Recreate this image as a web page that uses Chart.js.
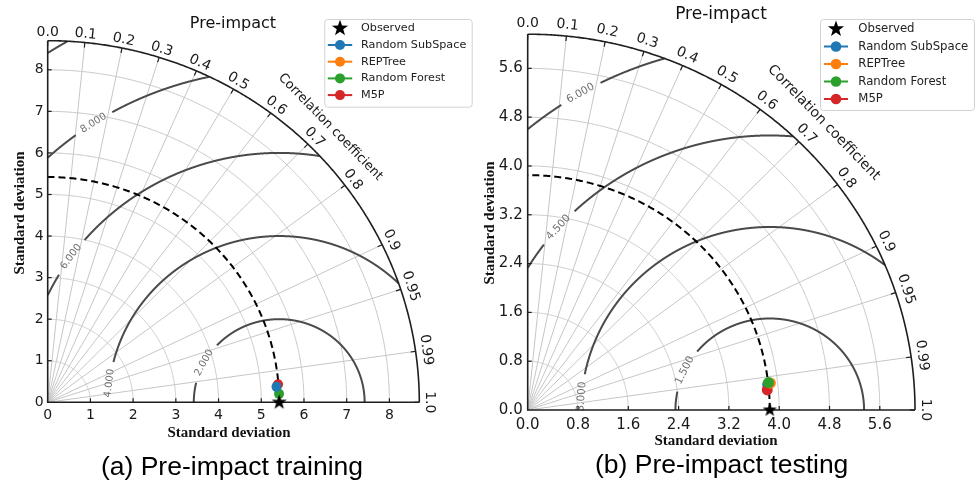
<!DOCTYPE html>
<html>
<head>
<meta charset="utf-8">
<title>Taylor diagrams – Pre-impact</title>
<script src="https://cdn.jsdelivr.net/npm/chart.js@4.4.1/dist/chart.umd.min.js"></script>
<style>
  html, body { margin: 0; padding: 0; background: #ffffff; }
  #wrap { position: relative; width: 977px; height: 486px; overflow: hidden; background: #ffffff; }
  #wrap canvas { position: absolute; left: 0; top: 0; }
</style>
</head>
<body>
<div id="wrap">
  <canvas id="train" width="977" height="486"></canvas>
  <canvas id="test" width="977" height="486"></canvas>
</div>
<script>
// Correlation values marked around the outer arc, and the ones that get a radial grid line
const corrTicks = [0.0, 0.1, 0.2, 0.3, 0.4, 0.5, 0.6, 0.7, 0.8, 0.9, 0.95, 0.99, 1.0];
const corrGrid = [0.1, 0.2, 0.3, 0.4, 0.5, 0.6, 0.7, 0.8, 0.9, 0.95, 0.99];

const modelNames = ['Random SubSpace', 'REPTree', 'Random Forest', 'M5P'];
const modelColors = ['#1f77b4', '#ff7f0e', '#2ca02c', '#d62728'];

// (a) Pre-impact training
const trainRefStd = 5.42;
const trainStd = [5.37, 5.39, 5.42, 5.41];
const trainCorr = [0.9976, 0.9972, 0.9993, 0.9968];
const trainRms = [2, 4, 6, 8, 10];
const trainStdTicks = [0, 1, 2, 3, 4, 5, 6, 7, 8];

// (b) Pre-impact testing
const testRefStd = 3.85;
const testStd = [3.84, 3.885, 3.856, 3.824];
const testCorr = [0.9940, 0.9935, 0.9932, 0.9963];
const testRms = [1.5, 3.0, 4.5, 6.0];
const testStdTicks = [0, 0.8, 1.6, 2.4, 3.2, 4.0, 4.8, 5.6];

// Page layout of each diagram
const trainLayout = {
  area: { left: 47.7, right: 419.3, top: 40.7, bottom: 402.3 },
  rMax: 8.7, decimals: 0, tickFont: 14, yTickPad: 4, xTickPad: 5,
  rmsLabelAt: [151.5, 173.4, 144.3, 122.9, null],   // degrees around the reference point
  labelGap: 21.5, contourFont: 10,
  corrFont: 14, corrOffset: 8.4, corrOffsetExtra: 2.3,
  corrTitleFont: 13, corrTitleOffset: 28,
  title: { x: 233, y: 24, size: 16 },
  xTitle: { x: 229, y: 433 }, yTitle: { x: 20.5, y: 213 }, axisTitleSize: 15,
  caption: { text: '(a) Pre-impact training', x: 232, y: 468, size: 26.5 },
  legend: { left: 324.3, top: 19, right: 471.7, bottom: 106.7, row0: 28.3, rowStep: 16.7,
            markX: 340, lineHalf: 12.2, textX: 361, font: 11.2, markR: 5, starR: 8.5 },
  pointR: 5, starR: 8,
  order: [0, 3, 1, 2]
};
const testLayout = {
  area: { left: 527.7, right: 915, top: 34.2, bottom: 410 },
  rMax: 6.16, decimals: 1, tickFont: 15, yTickPad: 5, xTickPad: 6,
  rmsLabelAt: [154.3, 175.8, 138.3, 120.1],
  labelGap: 22.5, contourFont: 10.5,
  corrFont: 14, corrOffset: 11, corrOffsetExtra: 0,
  corrTitleFont: 14, corrTitleOffset: 31,
  title: { x: 721, y: 14.7, size: 17 },
  xTitle: { x: 716, y: 440.7 }, yTitle: { x: 490, y: 223 }, axisTitleSize: 15,
  caption: { text: '(b) Pre-impact testing', x: 721.7, y: 466, size: 26.5 },
  legend: { left: 820, top: 19, right: 974, bottom: 110, row0: 29, rowStep: 17.5,
            markX: 836, lineHalf: 12, textX: 858.3, font: 11.7, markR: 5.3, starR: 8.5 },
  pointR: 5.5, starR: 7.5,
  order: [3, 1, 0, 2]
};

const W = 977, H = 486;
const Y_AXIS_W = 45, X_AXIS_H = 30;

function starPath(ctx, cx, cy, r) {
  ctx.beginPath();
  for (let k = 0; k < 10; k++) {
    const rr = (k % 2) ? r * 0.4 : r;
    const a = -Math.PI / 2 + k * Math.PI / 5;
    const x = cx + rr * Math.cos(a), y = cy + rr * Math.sin(a);
    if (k === 0) ctx.moveTo(x, y); else ctx.lineTo(x, y);
  }
  ctx.closePath();
}

function starImage(r) {
  const size = Math.ceil(r * 2 + 2);
  const c = document.createElement('canvas');
  c.width = c.height = size;
  const g = c.getContext('2d');
  starPath(g, size / 2, size / 2, r);
  g.fillStyle = '#000000';
  g.fill();
  return c;
}

function corrLabel(c) {
  return (Math.round(c * 100) % 10 === 0) ? c.toFixed(1) : c.toFixed(2);
}

function taylorPlugin(refStd, rms, stdTicks, L) {
  return {
    id: 'taylor',
    beforeDatasetsDraw(chart) {
      const ctx = chart.ctx, xs = chart.scales.x, ys = chart.scales.y;
      const P = (x, y) => [xs.getPixelForValue(x), ys.getPixelForValue(y)];
      const R = L.rMax;
      const sx = xs.getPixelForValue(1) - xs.getPixelForValue(0);
      const sy = ys.getPixelForValue(0) - ys.getPixelForValue(1);

      const arc = (s) => {
        ctx.beginPath();
        for (let k = 0; k <= 360; k++) {
          const t = k * Math.PI / 720;
          const [px, py] = P(s * Math.cos(t), s * Math.sin(t));
          if (k === 0) ctx.moveTo(px, py); else ctx.lineTo(px, py);
        }
        ctx.stroke();
      };

      ctx.save();
      // standard deviation arcs
      ctx.strokeStyle = '#c6c6c6';
      ctx.lineWidth = 1;
      stdTicks.forEach(s => { if (s > 0) arc(s); });
      // correlation rays
      corrGrid.forEach(c => {
        const [x0, y0] = P(0, 0);
        const [x1, y1] = P(R * c, R * Math.sqrt(1 - c * c));
        ctx.beginPath(); ctx.moveTo(x0, y0); ctx.lineTo(x1, y1); ctx.stroke();
      });

      // centred RMS difference contours
      rms.forEach((r, i) => {
        const lab = L.rmsLabelAt[i];
        let lc = null;
        if (lab != null) {
          const a = lab * Math.PI / 180;
          lc = P(refStd + r * Math.cos(a), r * Math.sin(a));
        }
        ctx.strokeStyle = '#4a4a4a';
        ctx.lineWidth = 2;
        ctx.setLineDash([]);
        ctx.beginPath();
        let open = false;
        for (let k = 0; k <= 3600; k++) {
          const a = k * Math.PI / 3600;
          const x = refStd + r * Math.cos(a), y = r * Math.sin(a);
          let ok = x >= 0 && y >= -1e-9 && (x * x + y * y) <= R * R;
          const [px, py] = P(x, y);
          if (ok && lc && Math.hypot(px - lc[0], py - lc[1]) < L.labelGap) ok = false;
          if (ok) {
            if (!open) { ctx.moveTo(px, py); open = true; } else ctx.lineTo(px, py);
          } else open = false;
        }
        ctx.stroke();
        if (lc) {
          const a = lab * Math.PI / 180;
          let ang = Math.atan2(-Math.cos(a) * sy, -Math.sin(a) * sx);
          if (ang > Math.PI / 2) ang -= Math.PI;
          if (ang < -Math.PI / 2) ang += Math.PI;
          ctx.save();
          ctx.translate(lc[0], lc[1]);
          ctx.rotate(ang);
          ctx.fillStyle = '#707070';
          ctx.font = L.contourFont + 'px "DejaVu Sans"';
          ctx.textAlign = 'center';
          ctx.textBaseline = 'middle';
          ctx.fillText(r.toFixed(3), 0, 0);
          ctx.restore();
        }
      });

      // reference standard deviation (dashed arc)
      ctx.strokeStyle = '#000000';
      ctx.lineWidth = 2;
      ctx.setLineDash([7, 4]);
      arc(refStd);
      ctx.setLineDash([]);

      // frame: axes and outer correlation arc
      ctx.strokeStyle = '#1e1e1e';
      ctx.lineWidth = 1.6;
      const [ox, oy] = P(0, 0);
      const [tx, ty] = P(0, R);
      const [rx, ry] = P(R, 0);
      ctx.beginPath(); ctx.moveTo(tx, ty); ctx.lineTo(ox, oy); ctx.lineTo(rx, ry); ctx.stroke();
      arc(R);

      // short inward tick marks
      ctx.lineWidth = 1.2;
      stdTicks.forEach(s => {
        if (s <= 0) return;
        const [px, py] = P(s, 0);
        ctx.beginPath(); ctx.moveTo(px, py); ctx.lineTo(px, py - 4); ctx.stroke();
        const [qx, qy] = P(0, s);
        ctx.beginPath(); ctx.moveTo(qx, qy); ctx.lineTo(qx + 4, qy); ctx.stroke();
      });
      corrTicks.forEach(c => {
        const [px, py] = P(R * c, R * Math.sqrt(Math.max(0, 1 - c * c)));
        const dx = px - ox, dy = py - oy, len = Math.hypot(dx, dy);
        ctx.beginPath(); ctx.moveTo(px, py); ctx.lineTo(px - dx / len * 5, py - dy / len * 5); ctx.stroke();
      });

      // correlation labels around the arc
      ctx.fillStyle = '#1a1a1a';
      ctx.font = L.corrFont + 'px "DejaVu Sans"';
      ctx.textAlign = 'center';
      ctx.textBaseline = 'middle';
      corrTicks.forEach(c => {
        const [px, py] = P(R * c, R * Math.sqrt(Math.max(0, 1 - c * c)));
        const dx = px - ox, dy = py - oy, len = Math.hypot(dx, dy);
        const alpha = Math.atan2(-dy, dx);
        const off = L.corrOffset + L.corrOffsetExtra * Math.cos(alpha) ** 2;
        ctx.save();
        ctx.translate(px + dx / len * off, py + dy / len * off);
        ctx.rotate(Math.PI / 2 - alpha);
        ctx.fillText(corrLabel(c), 0, 0);
        ctx.restore();
      });
      // arc title
      {
        const c = Math.SQRT1_2;
        const [px, py] = P(R * c, R * c);
        const dx = px - ox, dy = py - oy, len = Math.hypot(dx, dy);
        const alpha = Math.atan2(-dy, dx);
        ctx.save();
        ctx.translate(px + dx / len * L.corrTitleOffset, py + dy / len * L.corrTitleOffset);
        ctx.rotate(Math.PI / 2 - alpha);
        ctx.font = L.corrTitleFont + 'px "DejaVu Sans"';
        ctx.fillText('Correlation coefficient', 0, 0);
        ctx.restore();
      }
      ctx.restore();
    },

    afterDatasetsDraw(chart) {
      const ctx = chart.ctx;
      ctx.save();
      ctx.textAlign = 'center';
      ctx.textBaseline = 'middle';
      ctx.fillStyle = '#111111';

      // panel title
      ctx.font = L.title.size + 'px "DejaVu Sans"';
      ctx.fillText('Pre-impact', L.title.x, L.title.y);

      // axis titles
      ctx.font = 'bold ' + L.axisTitleSize + 'px "Liberation Serif"';
      ctx.fillText('Standard deviation', L.xTitle.x, L.xTitle.y);
      ctx.save();
      ctx.translate(L.yTitle.x, L.yTitle.y);
      ctx.rotate(-Math.PI / 2);
      ctx.fillText('Standard deviation', 0, 0);
      ctx.restore();

      // caption
      ctx.fillStyle = '#000000';
      ctx.font = L.caption.size + 'px "Liberation Sans"';
      ctx.fillText(L.caption.text, L.caption.x, L.caption.y);

      // legend
      const G = L.legend;
      ctx.beginPath();
      ctx.roundRect(G.left + 0.5, G.top + 0.5, G.right - G.left, G.bottom - G.top, 3);
      ctx.fillStyle = 'rgba(255,255,255,0.85)';
      ctx.fill();
      ctx.strokeStyle = '#d2d2d2';
      ctx.lineWidth = 1;
      ctx.stroke();

      ctx.textAlign = 'left';
      ctx.font = G.font + 'px "DejaVu Sans"';
      const sets = chart.data.datasets;
      sets.forEach((ds, i) => {
        const y = G.row0 + i * G.rowStep;
        if (i === 0) {
          starPath(ctx, G.markX, y, G.starR);
          ctx.fillStyle = '#000000';
          ctx.fill();
        } else {
          ctx.strokeStyle = ds.borderColor;
          ctx.lineWidth = 2;
          ctx.beginPath();
          ctx.moveTo(G.markX - G.lineHalf, y);
          ctx.lineTo(G.markX + G.lineHalf, y);
          ctx.stroke();
          ctx.beginPath();
          ctx.arc(G.markX, y, G.markR, 0, Math.PI * 2);
          ctx.fillStyle = ds.backgroundColor;
          ctx.fill();
        }
        ctx.fillStyle = '#222222';
        ctx.fillText(ds.label, G.textX, y);
      });
      ctx.restore();
    }
  };
}

function buildDiagram(canvasId, refStd, std, corr, rms, stdTicks, L) {
  const datasets = [{
    label: 'Observed',
    data: [{ x: refStd, y: 0 }],
    pointStyle: starImage(L.starR),
    pointRadius: L.starR,
    backgroundColor: '#000000',
    borderColor: '#000000',
    order: -1,
    clip: false
  }];
  modelNames.forEach((name, i) => {
    const s = std[i], c = corr[i];
    datasets.push({
      label: name,
      data: [{ x: s * c, y: s * Math.sqrt(1 - c * c) }],
      backgroundColor: modelColors[i],
      borderColor: modelColors[i],
      borderWidth: 0,
      pointRadius: L.pointR,
      order: L.order[i],
      clip: false
    });
  });

  const tickOpts = (pad) => ({
    autoSkip: false,
    maxRotation: 0,
    padding: pad,
    color: '#1a1a1a',
    font: { family: 'DejaVu Sans', size: L.tickFont },
    callback: v => Number(v).toFixed(L.decimals)
  });
  const noGrid = { display: false, drawTicks: false, tickLength: 0 };

  return new Chart(document.getElementById(canvasId), {
    type: 'scatter',
    data: { datasets },
    options: {
      responsive: false,
      animation: false,
      devicePixelRatio: 1,
      events: [],
      layout: {
        padding: {
          left: L.area.left - Y_AXIS_W,
          right: W - L.area.right,
          top: L.area.top,
          bottom: H - L.area.bottom - X_AXIS_H
        }
      },
      plugins: { legend: { display: false }, tooltip: { enabled: false }, title: { display: false } },
      scales: {
        x: {
          type: 'linear', min: 0, max: L.rMax,
          grid: noGrid, border: { display: false },
          afterBuildTicks: s => { s.ticks = stdTicks.map(v => ({ value: v })); },
          afterFit: s => { s.height = X_AXIS_H; },
          ticks: tickOpts(L.xTickPad)
        },
        y: {
          type: 'linear', min: 0, max: L.rMax,
          grid: noGrid, border: { display: false },
          afterBuildTicks: s => { s.ticks = stdTicks.map(v => ({ value: v })); },
          afterFit: s => { s.width = Y_AXIS_W; },
          ticks: tickOpts(L.yTickPad)
        }
      }
    },
    plugins: [taylorPlugin(refStd, rms, stdTicks, L)]
  });
}

buildDiagram('train', trainRefStd, trainStd, trainCorr, trainRms, trainStdTicks, trainLayout);
buildDiagram('test', testRefStd, testStd, testCorr, testRms, testStdTicks, testLayout);
</script>
</body>
</html>
